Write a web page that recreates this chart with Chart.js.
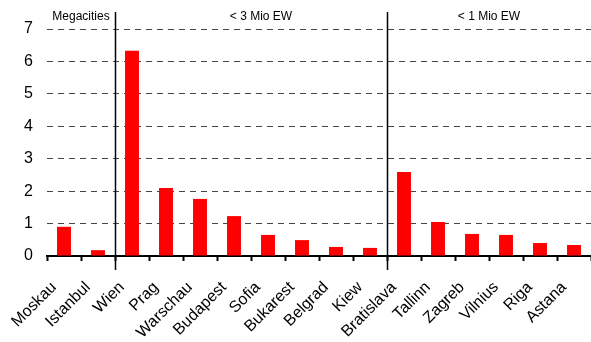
<!DOCTYPE html>
<html>
<head>
<meta charset="utf-8">
<script src="https://cdn.jsdelivr.net/npm/chart.js@4/dist/chart.umd.min.js"></script>
<style>
  html, body { margin: 0; padding: 0; background: #fff; }
  #wrap { width: 591px; height: 342px; }
</style>
</head>
<body>
<div id="wrap"><canvas id="c" width="591" height="342"></canvas></div>
<script>
// Einwohner in Millionen je Stadt
const cities = ['Moskau', 'Istanbul', 'Wien', 'Prag', 'Warschau', 'Budapest', 'Sofia', 'Bukarest', 'Belgrad', 'Kiew', 'Bratislava', 'Tallinn', 'Zagreb', 'Vilnius', 'Riga', 'Astana'];
const values = [0.9, 0.18, 6.33, 2.1, 1.76, 1.23, 0.65, 0.49, 0.28, 0.25, 2.59, 1.05, 0.68, 0.65, 0.4, 0.34];
const yTicks = [0, 1, 2, 3, 4, 5, 6, 7];
// Gruppen: Titel, erster und letzter Index
const groupNames = ['Megacities', '< 3 Mio EW', '< 1 Mio EW'];
const groupStart = [0, 2, 10];
const groupEnd = [1, 9, 15];

const groupPlugin = {
  id: 'groups',
  afterDatasetsDraw(chart) {
    const ctx = chart.ctx;
    const x = chart.scales.x;
    const half = (x.getPixelForValue(1) - x.getPixelForValue(0)) / 2;
    const area = chart.chartArea;
    ctx.save();
    ctx.strokeStyle = '#000';
    ctx.lineWidth = 1.5;
    for (let g = 1; g < groupStart.length; g++) {
      const px = Math.round(x.getPixelForValue(groupStart[g]) - half) + 0.5;
      ctx.beginPath();
      ctx.moveTo(px, area.top - 17);
      ctx.lineTo(px, area.bottom + 14);
      ctx.stroke();
    }
    ctx.fillStyle = '#000';
    ctx.font = '12px "Liberation Sans", Arial, sans-serif';
    ctx.textAlign = 'center';
    ctx.textBaseline = 'alphabetic';
    for (let g = 0; g < groupNames.length; g++) {
      let cx = (x.getPixelForValue(groupStart[g]) + x.getPixelForValue(groupEnd[g])) / 2;
      if (g === 1) cx += 10;
      ctx.fillText(groupNames[g], cx, area.top - 9);
    }
    ctx.restore();
  }
};

new Chart(document.getElementById('c'), {
  type: 'bar',
  data: {
    labels: cities,
    datasets: [{
      data: values,
      backgroundColor: '#ff0000',
      borderWidth: 0,
      barPercentage: 0.41,
      categoryPercentage: 1.0
    }]
  },
  options: {
    responsive: false,
    animation: false,
    events: [],
    layout: { padding: { top: 29, right: 0, left: 0, bottom: 0 } },
    plugins: { legend: { display: false }, tooltip: { enabled: false } },
    scales: {
      x: {
        grid: {
          display: true,
          offset: true,
          drawOnChartArea: false,
          drawTicks: true,
          tickLength: 5,
          tickWidth: 2,
          color: '#000'
        },
        border: { display: true, color: '#000', width: 2 },
        ticks: {
          color: '#000',
          font: { family: '"Liberation Sans", Arial, sans-serif', size: 16 },
          minRotation: 45,
          maxRotation: 45,
          autoSkip: false,
          padding: 17,
          labelOffset: -10
        },
        afterFit(scale) {
          scale.height = 86;
          scale.paddingLeft = 0;
          scale.paddingRight = 0;
        }
      },
      y: {
        min: 0,
        max: 7,
        afterBuildTicks(scale) { scale.ticks = yTicks.map(v => ({ value: v })); },
        grid: {
          drawTicks: false,
          color: '#444',
          lineWidth: 1,
          borderDash: [6, 5]
        },
        border: { display: false, dash: [6, 5] },
        ticks: {
          color: '#000',
          font: { family: '"Liberation Sans", Arial, sans-serif', size: 16 },
          padding: 14
        },
        afterFit(scale) {
          scale.width = 47;
          scale.paddingTop = 0;
          scale.paddingBottom = 0;
        }
      }
    }
  },
  plugins: [groupPlugin]
});
</script>
</body>
</html>
